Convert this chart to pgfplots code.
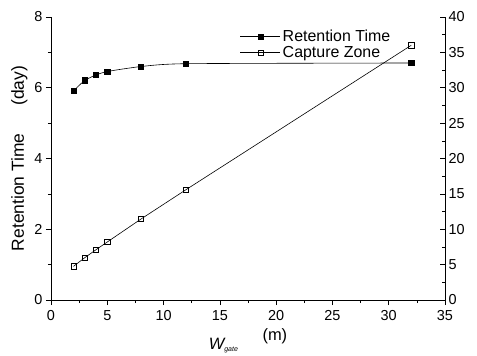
\documentclass[border=0pt]{standalone}
\usepackage{fontspec}
\setmainfont{Liberation Sans}
\usepackage{pgfplots}
\pgfplotsset{compat=1.18}
\begin{document}
\begin{tikzpicture}
\useasboundingbox (-51bp,-56bp) rectangle (426bp,300bp);
\pgfplotsset{
  every axis/.append style={
    scale only axis, width=394bp, height=283bp,
    xmin=0, xmax=35,
    font=\fontsize{14.5}{17}\selectfont,
    /pgf/number format/assume math mode=true,
    major tick length=5bp, minor tick length=3bp,
    every tick/.style={black, line width=0.6pt},
    axis line style={line width=0.8pt},
  },
}
% left axis: retention time
\begin{axis}[
  at={(0,0)}, anchor=south west,
  axis x line*=bottom, axis y line*=left,
  ymin=0, ymax=8,
  xtick={0,5,...,35}, ytick={0,2,...,8},
  minor x tick num=1, minor y tick num=1,
  tick align=outside,
  xticklabel style={yshift=-2bp},
  ylabel={Retention Time\hspace{1.6em}(day)},
  ylabel style={font=\fontsize{17.5}{19}\selectfont, yshift=0bp},
  xlabel={\raisebox{-1.0ex}{{\itshape W}{\fontsize{7}{8}\selectfont\raisebox{-0.6ex}{\itshape gate}}}\hspace{1.5em}(m)},
  xlabel style={font=\fontsize{16.5}{18}\selectfont, yshift=-1bp},
]
\addplot[black, line width=0.6pt, smooth, tension=0.35, mark=square*, mark size=2.6bp] coordinates {
  (2,5.91) (3,6.21) (4,6.36) (5,6.46) (8,6.60) (12,6.68) (32,6.70)
};
\end{axis}
% right axis: capture zone
\begin{axis}[
  at={(0,0)}, anchor=south west,
  axis x line=none, axis y line*=right,
  ymin=0, ymax=40,
  ytick={0,5,...,40}, minor y tick num=1,
  tick align=inside,
  legend style={draw=none, fill=none, at={(0.472,0.968)}, anchor=north west,
    row sep=-1bp, font=\fontsize{16}{18}\selectfont,
    /tikz/every even column/.append style={column sep=0bp}},
  legend cell align=left,
  legend image code/.code={\draw[mark repeat=2, mark phase=2, #1] plot coordinates {(0bp,0bp) (20bp,0bp) (40bp,0bp)};},
]
\addlegendimage{black, line width=0.6pt, mark=square*, mark size=2.6bp}
\addlegendentry{Retention Time}
\addplot[black, line width=0.6pt, mark=square, mark size=2.6bp, mark options={fill=white}] coordinates {
  (2,4.76) (3,5.98) (4,7.11) (5,8.2) (8,11.45) (12,15.6) (32,36.0)
};
\addlegendentry{Capture Zone}
\end{axis}
\end{tikzpicture}
\end{document}
